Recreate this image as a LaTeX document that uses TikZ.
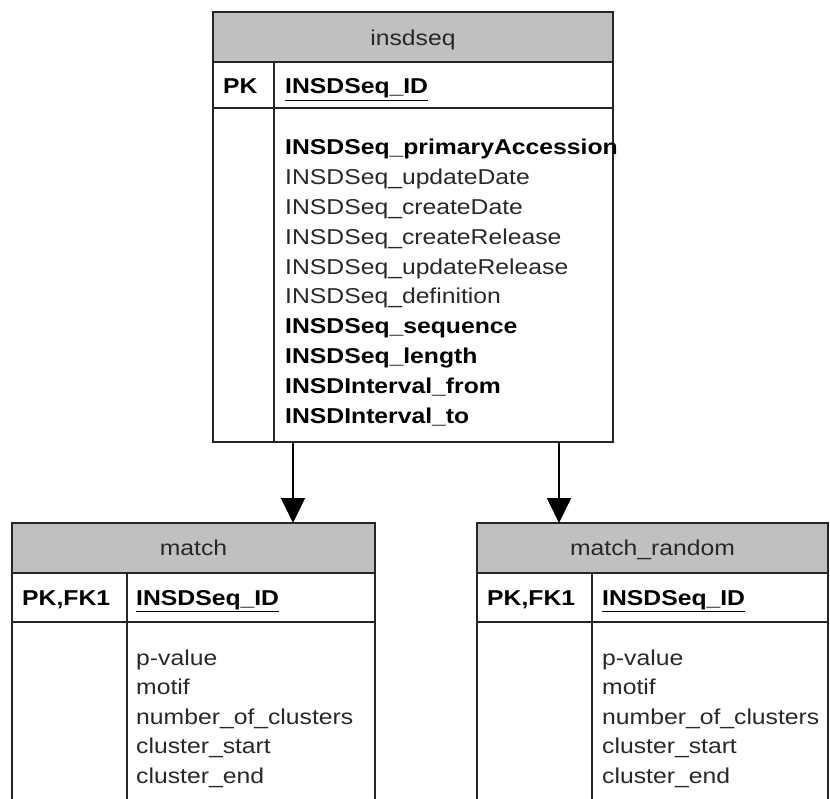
\documentclass[tikz,border=0pt]{standalone}
\usepackage{fontspec}
\setmainfont{Liberation Sans}[FakeStretch=1.15]
\usetikzlibrary{arrows.meta}
\definecolor{hdrgray}{RGB}{192,192,192}
\definecolor{txtgray}{RGB}{40,40,40}
\begin{document}
\begin{tikzpicture}[x=1pt,y=-1pt,
  frame/.style={line width=1.6pt, draw=black!85},
  hdr/.style={frame, fill=hdrgray, inner sep=0pt, outer sep=0pt, minimum height=50pt},
  txt/.style={inner sep=0pt, anchor=base west, font=\fontsize{21.5}{26}\selectfont, text=txtgray},
  btxt/.style={txt, text=black, font=\fontsize{21.5}{26}\selectfont\bfseries},
  ttl/.style={txt, anchor=base},
  rel/.style={line width=1.6pt, draw=black, -{Triangle[width=24pt,length=25pt]}}]
\useasboundingbox (0,0) rectangle (830,799);

% ---------- insdseq ----------
\node[hdr, minimum width=400pt] (ih) at (413,37) {};
\draw[frame] (213,62) rectangle (613,442);
\draw[frame] (213,108) -- (613,108);
\draw[frame] (274,62) -- (274,442);
\node[ttl] (iht) at (413,46) {insdseq};
\node[btxt] (ipk) at (223,94) {PK};
\node[btxt] (iid) at (285,94) {\underline{INSDSeq\_ID}};
\node[btxt] (i1) at (285,155) {INSDSeq\_primaryAccession};
\node[txt]  (i2) at (285,184.8) {INSDSeq\_updateDate};
\node[txt]  (i3) at (285,214.6) {INSDSeq\_createDate};
\node[txt]  (i4) at (285,244.4) {INSDSeq\_createRelease};
\node[txt]  (i5) at (285,274.2) {INSDSeq\_updateRelease};
\node[txt]  (i6) at (285,304) {INSDSeq\_definition};
\node[btxt] (i7) at (285,333.8) {INSDSeq\_sequence};
\node[btxt] (i8) at (285,363.6) {INSDSeq\_length};
\node[btxt] (i9) at (285,393.4) {INSDInterval\_from};
\node[btxt] (i10) at (285,423.2) {INSDInterval\_to};
\coordinate (s1) at (293,442);
\coordinate (s2) at (559,442);

% ---------- match ----------
\node[hdr, minimum width=363pt] (mh) at (193.5,548) {};
\draw[frame] (12,573) -- (12,802);
\draw[frame] (375,573) -- (375,802);
\draw[frame] (127,573) -- (127,802);
\draw[frame] (12,622) -- (375,622);
\node[ttl] (mht) at (193.5,555) {match};
\node[btxt] (mpk) at (22,605) {PK,FK1};
\node[btxt] (mid) at (136,605) {\underline{INSDSeq\_ID}};
\node[txt] (m1) at (136,665) {p-value};
\node[txt] (m2) at (136,694.6) {motif};
\node[txt] (m3) at (136,724.2) {number\_of\_clusters};
\node[txt] (m4) at (136,753.8) {cluster\_start};
\node[txt] (m5) at (136,783.4) {cluster\_end};

% ---------- match_random ----------
\node[hdr, minimum width=351pt] (rh) at (652.5,548) {};
\draw[frame] (477,573) -- (477,802);
\draw[frame] (828,573) -- (828,802);
\draw[frame] (592,573) -- (592,802);
\draw[frame] (477,622) -- (828,622);
\node[ttl] (rht) at (652.5,555) {match\_random};
\node[btxt] (rpk) at (487,605) {PK,FK1};
\node[btxt] (rid) at (602,605) {\underline{INSDSeq\_ID}};
\node[txt] (r1) at (602,665) {p-value};
\node[txt] (r2) at (602,694.6) {motif};
\node[txt] (r3) at (602,724.2) {number\_of\_clusters};
\node[txt] (r4) at (602,753.8) {cluster\_start};
\node[txt] (r5) at (602,783.4) {cluster\_end};

% ---------- relationships ----------
\draw[rel] (s1) -- (s1 |- mh.north);
\draw[rel] (s2) -- (s2 |- rh.north);
\end{tikzpicture}
\end{document}
